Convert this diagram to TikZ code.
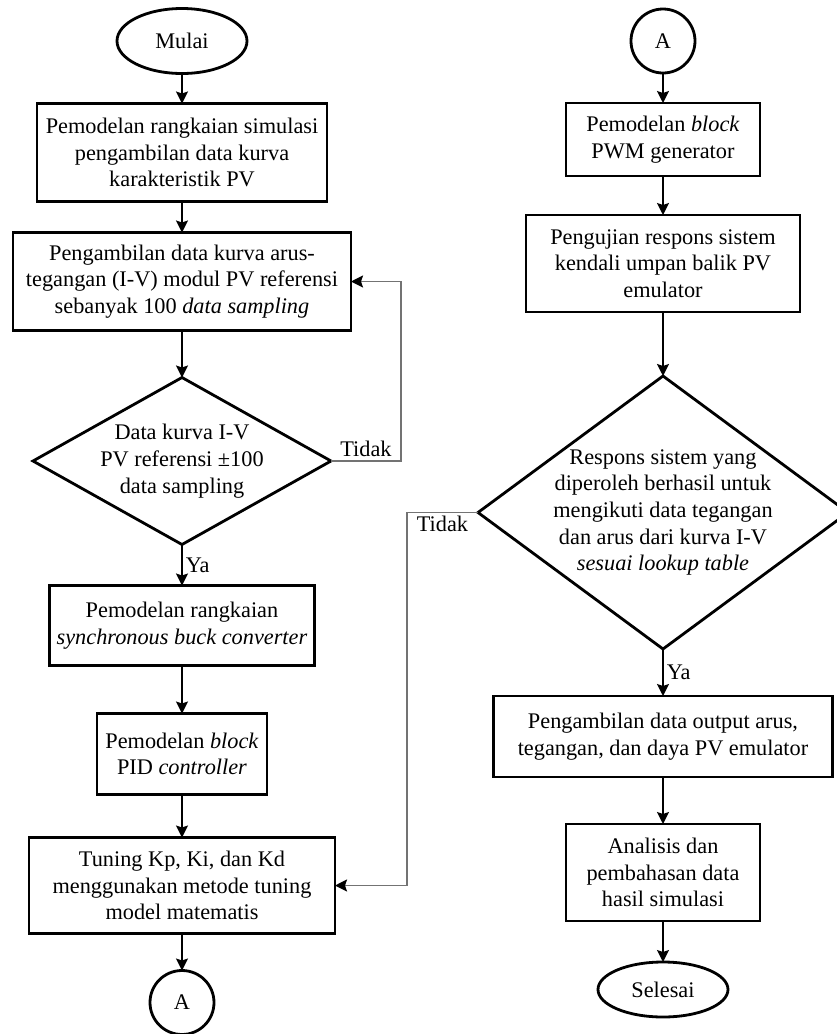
\documentclass[tikz,border=0pt]{standalone}
\usepackage{fontspec}
\setmainfont{Liberation Serif}
\usetikzlibrary{positioning,arrows.meta,shapes.geometric}
\newcommand{\teks}{\fontsize{22.3}{26.7}\selectfont}
\tikzset{
  kotak/.style      = {draw, line width=2.8pt, align=center, inner sep=4pt, outer sep=0pt, font=\teks},
  terminal/.style   = {draw, ellipse, line width=2.8pt, inner sep=0pt, outer sep=0pt, font=\teks},
  konektor/.style   = {draw, circle, line width=2.8pt, minimum size=64pt, inner sep=0pt,
                       outer sep=0pt, font=\teks},
  keputusan/.style  = {draw, diamond, line width=2.8pt, align=center, inner sep=0pt,
                       outer sep=0pt, font=\teks},
  keterangan/.style = {font=\teks, inner sep=3pt},
  panah/.style      = {-{Stealth[length=12pt, width=12pt, inset=2pt]}, line width=1.7pt},
  umpan/.style      = {-{Stealth[length=12pt, width=12pt, inset=2pt, color=black]},
                       line width=1.9pt, draw=black!55}
}

\begin{document}
\begin{tikzpicture}[x=1pt, y=1pt]
  \useasboundingbox (0,0) rectangle (837,-1034);

  % kolom kiri
  \node[terminal, minimum width=130pt, minimum height=65pt] (mulai) at (182,-41) {Mulai};
  \node[kotak, minimum width=290pt, minimum height=98pt, below=30pt of mulai] (simulasi)
      {Pemodelan rangkaian simulasi\\ pengambilan data kurva\\ karakteristik PV};
  \node[kotak, minimum width=338pt, minimum height=98pt, below=31pt of simulasi] (ambil)
      {Pengambilan data kurva arus-\\ tegangan (I-V) modul PV referensi\\
       sebanyak 100 \textit{data sampling}};
  \node[keputusan, aspect=1.78, minimum width=298pt, minimum height=167pt, below=47pt of ambil] (cekdata)
      {Data kurva I-V\\ PV referensi ±100\\ data sampling};
  \node[kotak, minimum width=265pt, minimum height=80pt, below=41pt of cekdata] (buck)
      {Pemodelan rangkaian\\ \textit{synchronous buck converter}};
  \node[kotak, minimum width=170pt, minimum height=81pt, below=48pt of buck] (pid)
      {Pemodelan \textit{block}\\ PID \textit{controller}};
  \node[kotak, minimum width=306pt, minimum height=96pt, below=43pt of pid] (tuning)
      {Tuning Kp, Ki, dan Kd\\ menggunakan metode tuning\\ model matematis};
  \node[konektor, below=37pt of tuning] (keA) {A};

  % kolom kanan
  \node[konektor] (dariA) at (663,-41) {A};
  \node[kotak, minimum width=194pt, minimum height=73pt, below=30pt of dariA] (pwm)
      {Pemodelan \textit{block}\\ PWM generator};
  \node[kotak, minimum width=274pt, minimum height=97pt, below=39pt of pwm] (respons)
      {Pengujian respons sistem\\ kendali umpan balik PV\\ emulator};
  \node[keputusan, aspect=1.36, inner sep=-6pt, minimum width=370pt, minimum height=273pt,
        below=64pt of respons] (cekrespons)
      {Respons sistem yang\\ diperoleh berhasil untuk\\ mengikuti data tegangan\\
       dan arus dari kurva I-V\\ \textit{sesuai lookup table}};
  \node[kotak, minimum width=339pt, minimum height=81pt, below=47pt of cekrespons] (output)
      {Pengambilan data output arus,\\ tegangan, dan daya PV emulator};
  \node[kotak, minimum width=194pt, minimum height=97pt, below=47pt of output] (analisis)
      {Analisis dan\\ pembahasan data\\ hasil simulasi};
  \node[terminal, minimum width=130pt, minimum height=55pt, below=41pt of analisis] (selesai) {Selesai};

  \draw[panah] (mulai) -- (simulasi);
  \draw[panah] (simulasi) -- (ambil);
  \draw[panah] (ambil) -- (cekdata);
  \draw[panah] (cekdata) -- node[keterangan, right] {Ya} (buck);
  \draw[panah] (buck) -- (pid);
  \draw[panah] (pid) -- (tuning);
  \draw[panah] (tuning) -- (keA);

  \draw[panah] (dariA) -- (pwm);
  \draw[panah] (pwm) -- (respons);
  \draw[panah] (respons) -- (cekrespons);
  \draw[panah] (cekrespons) -- node[keterangan, right] {Ya} (output);
  \draw[panah] (output) -- (analisis);
  \draw[panah] (analisis) -- (selesai);

  \draw[umpan] (cekdata.east) -- node[keterangan, above] {Tidak} ++(70,0) |- (ambil.east);
  \draw[umpan] (cekrespons.west) -- node[keterangan, below] {Tidak} ++(-71,0) |- (tuning.east);
\end{tikzpicture}
\end{document}
